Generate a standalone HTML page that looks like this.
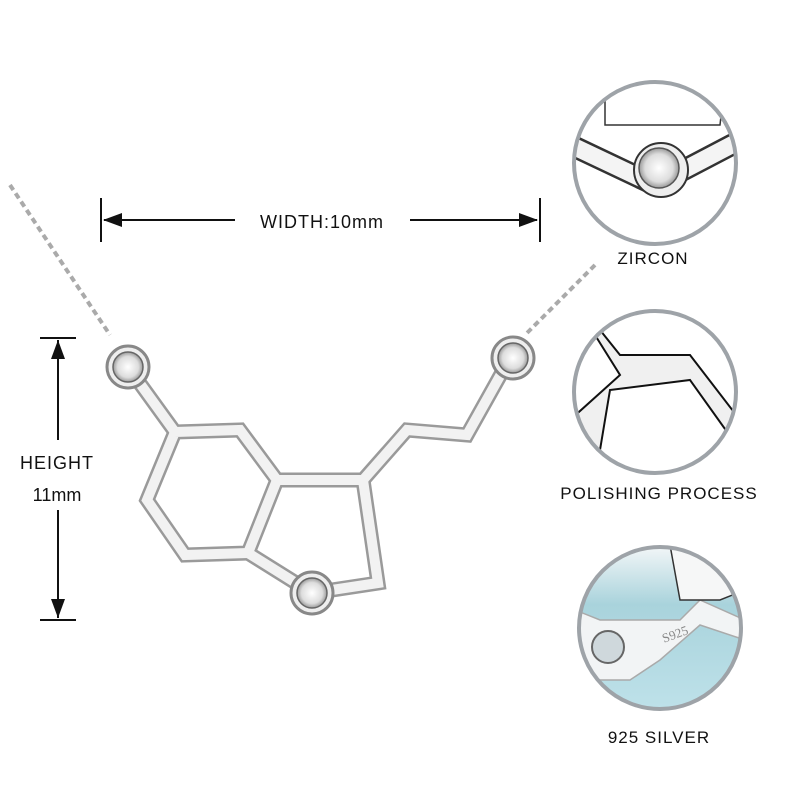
<!DOCTYPE html>
<html><head><meta charset="utf-8"><style>
html,body{margin:0;padding:0;background:#fff;}
</style></head><body>
<svg width="800" height="800" viewBox="0 0 800 800" xmlns="http://www.w3.org/2000/svg" font-family="Liberation Sans, sans-serif">
<defs>
<radialGradient id="gem" cx="50%" cy="50%" r="50%"><stop offset="0" stop-color="#fff"/><stop offset="0.7" stop-color="#ddd"/><stop offset="1" stop-color="#999"/></radialGradient>
<linearGradient id="blue" x1="0" y1="0" x2="0" y2="1"><stop offset="0" stop-color="#f4f7f8"/><stop offset="0.35" stop-color="#a9d3dc"/><stop offset="1" stop-color="#bfe2ea"/></linearGradient>
<clipPath id="c1"><circle cx="655" cy="163" r="80"/></clipPath>
<clipPath id="c2"><circle cx="655" cy="392" r="80"/></clipPath>
<clipPath id="c3"><circle cx="660" cy="628" r="80"/></clipPath>
</defs>
<!-- chains -->
<path d="M10,185 L110,335" stroke="#aaa" stroke-width="4" stroke-dasharray="6 4" fill="none"/>
<path d="M595,265 L525,335" stroke="#aaa" stroke-width="4" stroke-dasharray="6 4" fill="none"/>
<!-- molecule -->
<g fill="none" stroke-linejoin="miter" stroke-linecap="butt">
<g stroke="#9a9a9a" stroke-width="15">
<polyline points="128,367 175,432"/>
<polygon points="175,432 240,430 277,480 248,553 185,555 147,500"/>
<polyline points="277,480 363,480 378,583 312,593 248,553"/>
<polyline points="363,480 407,430 467,435 510,358"/>
</g>
<g stroke="#f2f2f2" stroke-width="10">
<polyline points="128,367 175,432"/>
<polygon points="175,432 240,430 277,480 248,553 185,555 147,500"/>
<polyline points="277,480 363,480 378,583 312,593 248,553"/>
<polyline points="363,480 407,430 467,435 510,358"/>
</g>
</g>
<g stroke="#888" stroke-width="3">
<circle cx="128" cy="367" r="21" fill="#eee"/><circle cx="128" cy="367" r="15" fill="url(#gem)" stroke="#666" stroke-width="1.5"/>
<circle cx="513" cy="358" r="21" fill="#eee"/><circle cx="513" cy="358" r="15" fill="url(#gem)" stroke="#666" stroke-width="1.5"/>
<circle cx="312" cy="593" r="21" fill="#eee"/><circle cx="312" cy="593" r="15" fill="url(#gem)" stroke="#666" stroke-width="1.5"/>
</g>
<!-- width dimension -->
<g stroke="#111" stroke-width="2" fill="#111">
<line x1="101" y1="198" x2="101" y2="242"/><line x1="540" y1="198" x2="540" y2="242"/>
<line x1="104" y1="220" x2="235" y2="220"/><line x1="410" y1="220" x2="537" y2="220"/>
<polygon points="103,220 122,213 122,227" stroke="none"/>
<polygon points="538,220 519,213 519,227" stroke="none"/>
<line x1="40" y1="338" x2="76" y2="338"/><line x1="40" y1="620" x2="76" y2="620"/>
<line x1="58" y1="340" x2="58" y2="440"/><line x1="58" y1="510" x2="58" y2="618"/>
<polygon points="58,340 51,359 65,359" stroke="none"/>
<polygon points="58,618 51,599 65,599" stroke="none"/>
</g>
<text x="322" y="228" font-size="18" text-anchor="middle" fill="#111" letter-spacing="1">WIDTH:10mm</text>
<text x="57" y="469" font-size="18" text-anchor="middle" fill="#111" letter-spacing="1">HEIGHT</text>
<text x="57" y="501" font-size="18" text-anchor="middle" fill="#111">11mm</text>
<!-- circle 1 -->
<g clip-path="url(#c1)">
<rect x="570" y="80" width="170" height="170" fill="#fff"/>
<g fill="none" stroke-linejoin="miter">
<polyline points="560,140 655,185 760,130" stroke="#333" stroke-width="22"/>
<polyline points="560,140 655,185 760,130" stroke="#f4f4f4" stroke-width="17"/>
<polyline points="605,80 605,125 660,125 720,125 725,80" stroke="#333" stroke-width="1.5"/>
</g>
<circle cx="661" cy="170" r="27" fill="#eee" stroke="#333" stroke-width="2"/>
<circle cx="659" cy="168" r="20" fill="url(#gem)" stroke="#555" stroke-width="1.5"/>
</g>
<circle cx="655" cy="163" r="81" fill="none" stroke="#9ea3a8" stroke-width="4"/>
<text x="653" y="264" font-size="17" text-anchor="middle" fill="#111" letter-spacing="1">ZIRCON</text>
<!-- circle 2 -->
<g clip-path="url(#c2)">
<rect x="570" y="305" width="170" height="170" fill="#fff"/>
<path d="M595,335 L620,375 L570,420 L570,480 L595,480 L610,390 L690,380 L740,450 L740,420 L690,355 L620,355 L600,330 Z" fill="#f0f0f0" stroke="#111" stroke-width="2"/>
</g>
<circle cx="655" cy="392" r="81" fill="none" stroke="#9ea3a8" stroke-width="4"/>
<text x="659" y="499" font-size="17" text-anchor="middle" fill="#111" letter-spacing="1">POLISHING PROCESS</text>
<!-- circle 3 -->
<g clip-path="url(#c3)">
<rect x="575" y="545" width="170" height="170" fill="url(#blue)"/>
<path d="M575,610 L600,620 L640,620 L680,620 L700,600 L745,620 L745,640 L700,625 L660,660 L630,680 L590,680 L575,670 Z" fill="#f2f4f5" stroke="#aaa" stroke-width="1.5"/>
<path d="M670,545 L680,600 L720,600 L745,590 L745,560 L705,545 Z" fill="#f6f7f7" stroke="#333" stroke-width="1.5"/>
<circle cx="608" cy="647" r="16" fill="#cfd8dc" stroke="#666" stroke-width="2"/>
<text x="663" y="643" font-size="13" font-family="Liberation Serif, serif" fill="#888" transform="rotate(-20 663 640)">S925</text>
</g>
<circle cx="660" cy="628" r="81" fill="none" stroke="#9ea3a8" stroke-width="4"/>
<text x="659" y="743" font-size="17" text-anchor="middle" fill="#111" letter-spacing="1">925 SILVER</text>
</svg>
</body></html>
